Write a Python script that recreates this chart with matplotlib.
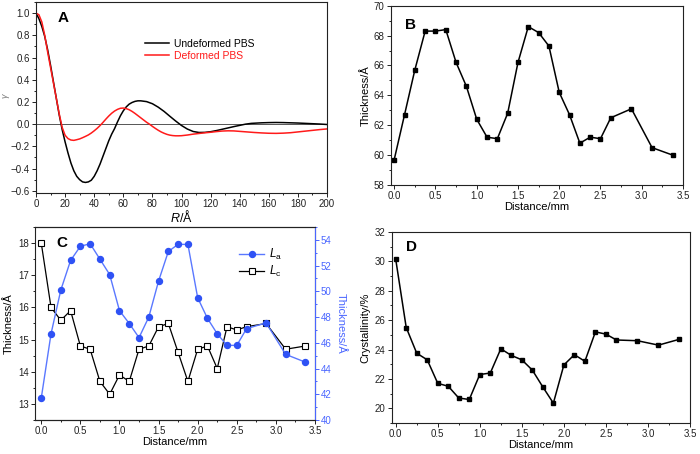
import matplotlib
matplotlib.use("Agg")
import matplotlib.pyplot as plt
from matplotlib.ticker import MultipleLocator

plt.rcParams['font.family'] = ['Liberation Sans', 'DejaVu Sans']
plt.rcParams['mathtext.fontset'] = 'custom'
plt.rcParams['mathtext.rm'] = 'Liberation Sans'
plt.rcParams['mathtext.it'] = 'Liberation Sans:italic'

# ---------------- Panel A data ----------------
r_undef = [0, 2, 4, 6, 8, 10, 12, 14, 16, 18, 20, 22, 24, 26, 28, 30, 32, 34, 36, 38,
           40, 42, 44, 46, 48, 50, 52, 54, 56, 58, 60, 62, 64, 66, 68, 70, 72, 76, 80,
           84, 88, 92, 96, 100, 104, 108, 112, 116, 120, 124, 128, 132, 136, 140, 144,
           148, 155, 160, 165, 170, 175, 180, 185, 190, 195, 200]
g_undef = [1.0, 0.95, 0.88, 0.79, 0.67, 0.53, 0.38, 0.23, 0.08, -0.05, -0.16, -0.26,
           -0.35, -0.42, -0.47, -0.5, -0.52, -0.525, -0.52, -0.505, -0.47, -0.42, -0.36,
           -0.29, -0.22, -0.15, -0.09, -0.04, 0.02, 0.075, 0.12, 0.155, 0.18, 0.195,
           0.205, 0.21, 0.21, 0.203, 0.184, 0.153, 0.115, 0.071, 0.028, -0.012, -0.044,
           -0.066, -0.075, -0.074, -0.068, -0.058, -0.046, -0.034, -0.022, -0.011, 0.0,
           0.007, 0.012, 0.014, 0.015, 0.014, 0.012, 0.01, 0.007, 0.004, 0.001, -0.003]

r_def = [0, 2, 4, 6, 8, 10, 12, 14, 16, 18, 20, 22, 24, 26, 28, 30, 32, 34, 36, 38, 40,
         42, 44, 46, 48, 50, 52, 54, 56, 58, 60, 62, 64, 66, 68, 70, 72, 74, 76, 78, 80,
         82, 84, 86, 88, 90, 92, 94, 96, 98, 100, 104, 108, 112, 116, 120, 124, 128,
         132, 136, 140, 145, 150, 155, 160, 165, 170, 175, 180, 185, 190, 195, 200]
g_def = [1.0, 0.985, 0.92, 0.8, 0.65, 0.51, 0.37, 0.23, 0.09, -0.03, -0.1, -0.13,
         -0.143, -0.146, -0.14, -0.133, -0.122, -0.11, -0.097, -0.08, -0.06, -0.038,
         -0.013, 0.015, 0.045, 0.073, 0.098, 0.118, 0.133, 0.143, 0.145, 0.14, 0.13,
         0.115, 0.097, 0.077, 0.057, 0.037, 0.017, 0.0, -0.02, -0.038, -0.055, -0.07,
         -0.082, -0.092, -0.099, -0.103, -0.105, -0.105, -0.104, -0.098, -0.09, -0.084,
         -0.078, -0.073, -0.067, -0.062, -0.06, -0.061, -0.065, -0.07, -0.075, -0.079,
         -0.082, -0.083, -0.081, -0.077, -0.07, -0.063, -0.056, -0.049, -0.043]

# ---------------- Panels B, C, D data ----------------
distance = [0.0, 0.125, 0.25, 0.375, 0.5, 0.625, 0.75, 0.875, 1.0, 1.125, 1.25, 1.375,
            1.5, 1.625, 1.75, 1.875, 2.0, 2.125, 2.25, 2.375, 2.5, 2.625, 2.875, 3.125,
            3.375]
thickness_B = [59.7, 62.7, 65.7, 68.3, 68.3, 68.4, 66.2, 64.6, 62.4, 61.2, 61.1, 62.8,
               66.2, 68.6, 68.2, 67.3, 64.2, 62.7, 60.8, 61.2, 61.1, 62.5, 63.1, 60.5,
               60.0]
La = [41.7, 46.7, 50.1, 52.4, 53.5, 53.7, 52.5, 51.3, 48.5, 47.5, 46.4, 48.0, 50.8, 53.1,
      53.65, 53.65, 49.5, 47.9, 46.7, 45.8, 45.8, 47.1, 47.55, 45.1, 44.5]
Lc = [18.0, 16.0, 15.6, 15.9, 14.8, 14.7, 13.7, 13.3, 13.9, 13.7, 14.7, 14.8, 15.4, 15.5,
      14.6, 13.7, 14.7, 14.8, 14.1, 15.4, 15.3, 15.4, 15.5, 14.7, 14.8]
crystallinity = [30.15, 25.5, 23.75, 23.3, 21.7, 21.5, 20.7, 20.6, 22.3, 22.4, 24.05,
                 23.6, 23.3, 22.6, 21.45, 20.35, 22.95, 23.65, 23.2, 25.2, 25.05, 24.65,
                 24.6, 24.3, 24.7]

W, H = 700, 454
fig = plt.figure(figsize=(7.0, 4.54), dpi=100)


def box(l, t, r, b):
    return [l / W, 1 - b / H, (r - l) / W, (b - t) / H]


TICK_FS = 7
LABEL_FS = 8
BLUE = '#2f52f5'
BLUE_TXT = '#4a66ff'


def style(ax):
    for s in ax.spines.values():
        s.set_linewidth(0.8)
        s.set_color('#222222')
    ax.tick_params(which='both', direction='out', top=False, right=False,
                   labelsize=TICK_FS, colors='#222222', width=0.7, pad=1.5)
    ax.tick_params(which='major', length=2.8)
    ax.tick_params(which='minor', length=1.5)


# ---------------- Panel A ----------------
axA = fig.add_axes(box(36, 2, 327, 193))
style(axA)
axA.axhline(0, color='#555555', lw=0.7, zorder=1)
axA.plot(r_undef, g_undef, color='black', lw=1.1, label='Undeformed PBS')
axA.plot(r_def, g_def, color='#ff1a1a', lw=1.1, label='Deformed PBS')
axA.set_xlim(0, 200)
axA.set_ylim(-0.62, 1.1)
axA.xaxis.set_major_locator(MultipleLocator(20))
axA.xaxis.set_minor_locator(MultipleLocator(10))
axA.yaxis.set_major_locator(MultipleLocator(0.2))
axA.yaxis.set_minor_locator(MultipleLocator(0.1))
axA.set_xlabel(r'$R$/Å', fontsize=9, labelpad=0)
fig.text(7 / W, 1 - 96 / H, r'$\gamma$', fontsize=6.5, color='#777777', rotation=90,
         ha='center', va='center')
leg = axA.legend(loc='upper left', bbox_to_anchor=(0.36, 0.83), frameon=False,
                 fontsize=7.5, handlelength=2.3, handletextpad=0.5, labelspacing=0.2,
                 borderaxespad=0)
for t, c in zip(leg.get_texts(), ['black', '#ff1a1a']):
    t.set_color(c)
axA.text(0.075, 0.955, 'A', transform=axA.transAxes, fontsize=11, fontweight='bold',
         va='top', ha='left')

# ---------------- Panel B ----------------
axB = fig.add_axes(box(390.5, 5.7, 683, 185))
style(axB)
axB.plot(distance, thickness_B, color='black', lw=1.1, marker='s', ms=3.3)
axB.set_xlim(-0.045, 3.5)
axB.set_ylim(58, 70)
axB.xaxis.set_major_locator(MultipleLocator(0.5))
axB.xaxis.set_minor_locator(MultipleLocator(0.25))
axB.yaxis.set_major_locator(MultipleLocator(2))
axB.yaxis.set_minor_locator(MultipleLocator(1))
axB.set_xlabel('Distance/mm', fontsize=LABEL_FS, labelpad=1)
axB.set_ylabel('Thickness/Å', fontsize=LABEL_FS, labelpad=2)
axB.text(0.05, 0.93, 'B', transform=axB.transAxes, fontsize=11, fontweight='bold',
         va='top', ha='left')

# ---------------- Panel C ----------------
axC = fig.add_axes(box(35, 227, 315, 420))
style(axC)
axC2 = axC.twinx()
for s in axC2.spines.values():
    s.set_linewidth(0.8)
    s.set_color('#222222')
axC2.spines['right'].set_color(BLUE_TXT)
axC2.spines['left'].set_visible(False)
axC2.tick_params(which='both', direction='out', labelsize=TICK_FS, colors=BLUE_TXT,
                 width=0.7, pad=1.5)
axC2.tick_params(which='major', length=2.8)
axC2.tick_params(which='minor', length=1.5)

lc_line, = axC.plot(distance, Lc, color='black', lw=0.9, marker='s', ms=4,
                    mfc='white', mec='black', mew=0.8, label=r'$L_\mathrm{c}$')
la_line, = axC2.plot(distance, La, color='#5a78ff', lw=1.0, marker='o', ms=4.3,
                     mfc=BLUE, mec=BLUE, label=r'$L_\mathrm{a}$')
axC.set_xlim(-0.08, 3.5)
axC.set_ylim(12.5, 18.5)
axC2.set_ylim(40, 55)
axC.xaxis.set_major_locator(MultipleLocator(0.5))
axC.xaxis.set_minor_locator(MultipleLocator(0.25))
axC.yaxis.set_major_locator(MultipleLocator(1))
axC.yaxis.set_minor_locator(MultipleLocator(0.5))
axC2.yaxis.set_major_locator(MultipleLocator(2))
axC2.yaxis.set_minor_locator(MultipleLocator(1))
axC.set_xlabel('Distance/mm', fontsize=LABEL_FS, labelpad=1)
axC.set_ylabel('Thickness/Å', fontsize=LABEL_FS, labelpad=3)
axC2.set_ylabel('Thickness/Å', fontsize=LABEL_FS, color=BLUE_TXT, rotation=270,
                labelpad=10)
axC2.legend([la_line, lc_line], [r'$L_\mathrm{a}$', r'$L_\mathrm{c}$'],
            loc='upper left', bbox_to_anchor=(0.71, 0.92), frameon=False,
            fontsize=8.5, handlelength=2.2, handletextpad=0.4, labelspacing=0.15,
            borderaxespad=0)
axC.text(0.075, 0.955, 'C', transform=axC.transAxes, fontsize=11, fontweight='bold',
         va='top', ha='left')

# ---------------- Panel D ----------------
axD = fig.add_axes(box(391.5, 232, 690, 423))
style(axD)
axD.plot(distance, crystallinity, color='black', lw=1.1, marker='s', ms=3.3)
axD.set_xlim(-0.05, 3.5)
axD.set_ylim(19, 32)
axD.xaxis.set_major_locator(MultipleLocator(0.5))
axD.xaxis.set_minor_locator(MultipleLocator(0.25))
axD.yaxis.set_major_locator(MultipleLocator(2))
axD.yaxis.set_minor_locator(MultipleLocator(1))
axD.set_xlabel('Distance/mm', fontsize=LABEL_FS, labelpad=1)
axD.set_ylabel('Crystallinity/%', fontsize=LABEL_FS, labelpad=3)
axD.text(0.05, 0.96, 'D', transform=axD.transAxes, fontsize=11, fontweight='bold',
         va='top', ha='left')

fig.savefig('out.png', dpi=100)
